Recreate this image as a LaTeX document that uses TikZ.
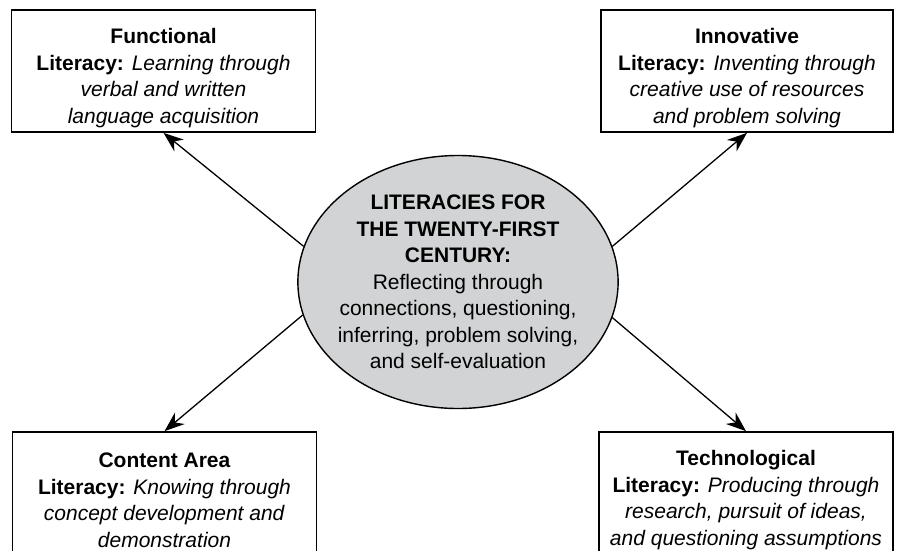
\documentclass[tikz,border=0pt]{standalone}
\usepackage{fontspec}
\setmainfont{Liberation Sans}
\usetikzlibrary{shapes.geometric, arrows.meta}
\definecolor{hubgray}{HTML}{D1D3D4}
\newcommand{\headstrut}{\rule{0pt}{29pt}}

\begin{document}
\begin{tikzpicture}[x=1pt, y=-1pt,
  litbox/.style={draw, line width=1.7pt, minimum width=304pt, minimum height=122pt,
    inner sep=0pt, align=center, font=\fontsize{21}{26.5}\selectfont},
  hub/.style={ellipse, draw, line width=1.4pt, fill=hubgray, minimum width=320pt,
    minimum height=253pt, inner xsep=-7pt, inner ysep=-2pt, align=center,
    font=\fontsize{21}{26.5}\selectfont},
  link/.style={-{Stealth[length=20pt, width=15pt]}, line width=1.3pt}]
  \useasboundingbox (0,0) rectangle (898,550);
  \clip (0,0) rectangle (898,550);

  % centre ellipse
  \node[hub] (core) at (458,282) {\textbf{LITERACIES FOR}\\ \textbf{THE TWENTY-FIRST}\\ \textbf{CENTURY:}\\
    Reflecting through\\ connections, questioning,\\ inferring, problem solving,\\ and self-evaluation};

  % functional
  \node[litbox] (func) at (163.5,71) {\headstrut\textbf{Functional}\\ \textbf{Literacy:} \textit{Learning through}\\
    \textit{verbal and written}\\ \textit{language acquisition}};

  % innovative
  \node[litbox, minimum width=292pt] (innov) at (747,71) {\headstrut\textbf{Innovative}\\ \textbf{Literacy:} \textit{Inventing through}\\
    \textit{creative use of resources}\\ \textit{and problem solving}};

  % content area - runs off the bottom edge
  \node[litbox] (content) at (164.5,493) {\headstrut\textbf{Content Area}\\ \textbf{Literacy:} \textit{Knowing through}\\
    \textit{concept development and}\\ \textit{demonstration}};

  % technological
  \node[litbox, minimum width=294pt] (tech) at (746,493) {\headstrut\textbf{Technological}\\ \textbf{Literacy:} \textit{Producing through}\\
    \textit{research, pursuit of ideas,}\\ \textit{and questioning assumptions}};

  % arrows out of the ellipse
  \draw[link] (core.167) -- (func.south);
  \draw[link] (core.13) -- (innov.south);
  \draw[link] (core.-168) -- (content.north);
  \draw[link] (core.-13) -- (tech.north);
\end{tikzpicture}
\end{document}
